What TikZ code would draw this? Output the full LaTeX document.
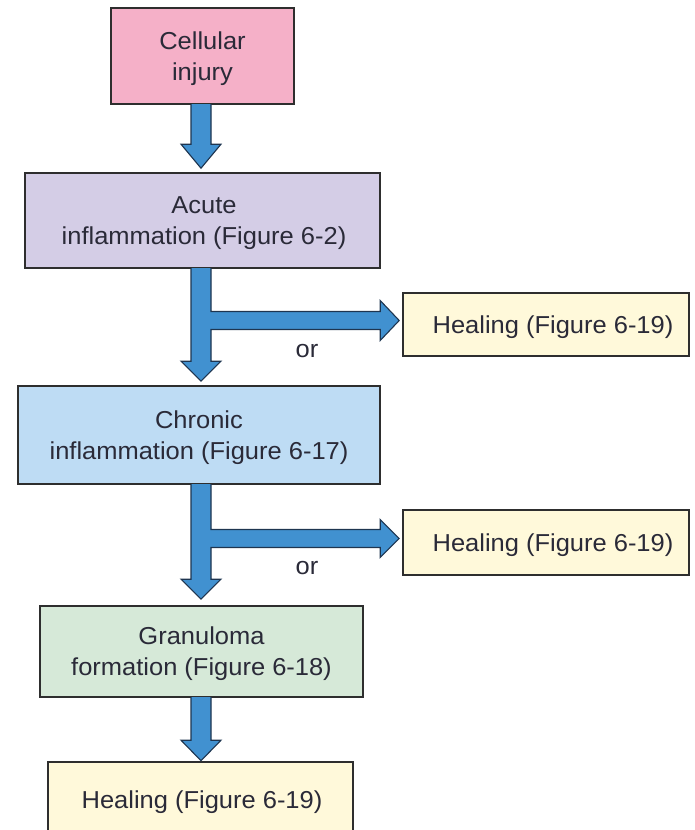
\documentclass[tikz,border=0pt]{standalone}
\usepackage{fontspec}
\setmainfont{Liberation Sans}[FakeStretch=1.04]
\usetikzlibrary{calc}
\definecolor{txt}{HTML}{2A2A38}
\definecolor{edge}{HTML}{2E2E2E}
\definecolor{pinkf}{HTML}{F5B0C8}
\definecolor{lavf}{HTML}{D4CDE6}
\definecolor{bluef}{HTML}{BEDCF4}
\definecolor{greenf}{HTML}{D6E9D8}
\definecolor{yellf}{HTML}{FFF9DA}
\definecolor{arrf}{HTML}{4191D0}
\definecolor{arrd}{HTML}{1E3550}
\tikzset{
  box/.style={draw=edge, line width=1.6pt, inner sep=0pt},
  lbl/.style={align=center, text=txt, inner sep=0pt, yshift=-2.5pt,
    font=\fontsize{24.5}{31}\selectfont},
  fat/.style={fill=arrf, draw=arrd, line width=1.1pt, line join=miter},
  ortext/.style={text=txt, font=\fontsize{24.5}{31}\selectfont}
}
\begin{document}
\begin{tikzpicture}[x=1pt,y=-1pt]
\useasboundingbox (0,0) rectangle (694,830);
\clip (0,0) rectangle (694,830);
\node[box, fill=pinkf, minimum width=183pt, minimum height=96pt,
  label={[lbl]center:Cellular\\injury}] (a) at (202.5,56) {};
\node[box, fill=lavf, minimum width=355pt, minimum height=95pt,
  label={[lbl,xshift=1.5pt]center:Acute\\inflammation (Figure 6-2)}] (b) at (202.5,220.5) {};
\node[box, fill=yellf, minimum width=286pt, minimum height=63pt,
  label={[lbl,xshift=7pt]center:Healing (Figure 6-19)}] (h1) at (546,324.5) {};
\node[box, fill=bluef, minimum width=362pt, minimum height=98pt,
  label={[lbl]center:Chronic\\inflammation (Figure 6-17)}] (c) at (199,435) {};
\node[box, fill=yellf, minimum width=286pt, minimum height=65pt,
  label={[lbl,xshift=7pt]center:Healing (Figure 6-19)}] (h2) at (546,542.5) {};
\node[box, fill=greenf, minimum width=323pt, minimum height=91pt,
  label={[lbl]center:Granuloma\\formation (Figure 6-18)}] (d) at (201.5,651.5) {};
\node[box, fill=yellf, minimum width=305pt, minimum height=80pt,
  label={[lbl,yshift=2pt,xshift=1.5pt]center:Healing (Figure 6-19)}] (e) at (200.5,802) {};
\coordinate (ax) at (201,0);
\node[ortext] (or1) at (307,351) {or};
\node[ortext] (or2) at (307,568) {or};
% simple down arrows
\draw[fat] ([xshift=-10pt,yshift=0.8pt]ax |- a.south) -- ([xshift=-10pt,yshift=28pt]ax |- b.north)
  -- ([xshift=-20pt,yshift=28pt]ax |- b.north) -- ([yshift=4pt]ax |- b.north)
  -- ([xshift=20pt,yshift=28pt]ax |- b.north) -- ([xshift=10pt,yshift=28pt]ax |- b.north)
  -- ([xshift=10pt,yshift=0.8pt]ax |- a.south);
\draw[fat] ([xshift=-10pt,yshift=0.8pt]ax |- d.south) -- ([xshift=-10pt,yshift=21pt]ax |- e.north)
  -- ([xshift=-20pt,yshift=21pt]ax |- e.north) -- ([yshift=0.5pt]ax |- e.north)
  -- ([xshift=20pt,yshift=21pt]ax |- e.north) -- ([xshift=10pt,yshift=21pt]ax |- e.north)
  -- ([xshift=10pt,yshift=0.8pt]ax |- d.south);
% branched arrows
\draw[fat] ([xshift=-10pt,yshift=0.8pt]ax |- b.south) -- ([xshift=-10pt,yshift=24pt]ax |- c.north)
  -- ([xshift=-20pt,yshift=24pt]ax |- c.north) -- ([yshift=4pt]ax |- c.north)
  -- ([xshift=20pt,yshift=24pt]ax |- c.north) -- ([xshift=10pt,yshift=24pt]ax |- c.north)
  -- ([xshift=10pt,yshift=-5pt]ax |- h1.west) -- ([xshift=-22pt,yshift=-5pt]h1.west)
  -- ([xshift=-22pt,yshift=-16pt]h1.west) -- ([xshift=-3pt,yshift=4pt]h1.west)
  -- ([xshift=-22pt,yshift=24pt]h1.west) -- ([xshift=-22pt,yshift=13pt]h1.west)
  -- ([xshift=10pt,yshift=13pt]ax |- h1.west) -- ([xshift=10pt,yshift=0.8pt]ax |- b.south);
\draw[fat] ([xshift=-10pt,yshift=0.8pt]ax |- c.south) -- ([xshift=-10pt,yshift=26pt]ax |- d.north)
  -- ([xshift=-20pt,yshift=26pt]ax |- d.north) -- ([yshift=6pt]ax |- d.north)
  -- ([xshift=20pt,yshift=26pt]ax |- d.north) -- ([xshift=10pt,yshift=26pt]ax |- d.north)
  -- ([xshift=10pt,yshift=-5pt]ax |- h2.west) -- ([xshift=-22pt,yshift=-5pt]h2.west)
  -- ([xshift=-22pt,yshift=-15pt]h2.west) -- ([xshift=-3pt,yshift=4pt]h2.west)
  -- ([xshift=-22pt,yshift=23pt]h2.west) -- ([xshift=-22pt,yshift=13pt]h2.west)
  -- ([xshift=10pt,yshift=13pt]ax |- h2.west) -- ([xshift=10pt,yshift=0.8pt]ax |- c.south);
\end{tikzpicture}
\end{document}
